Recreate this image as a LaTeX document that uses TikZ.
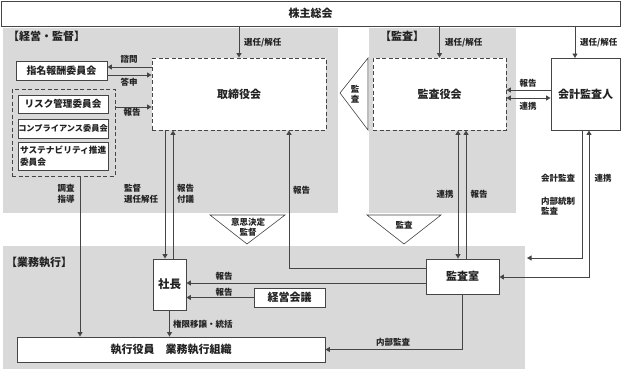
\documentclass[tikz,border=0pt]{standalone}
\usepackage{fontspec}
\setmainfont{Noto Sans CJK JP}
\usetikzlibrary{arrows.meta}
\definecolor{bg}{HTML}{D9D9D9}
\definecolor{ln}{HTML}{454545}
\definecolor{tx}{HTML}{222222}
\tikzset{
  box/.style={draw=ln, line width=0.9pt, fill=white, inner sep=0pt, text=tx,
    font=\fontsize{11}{13}\selectfont},
  dbox/.style={box, dash pattern=on 4pt off 2.5pt},
  tip/.tip={Triangle[length=4.5pt,width=5pt]},
  arr/.style={draw=ln, line width=0.9pt, -tip},
  darr/.style={draw=ln, line width=0.9pt, tip-tip},
  lbl/.style={font=\fontsize{8.5}{10.5}\selectfont, inner sep=0pt, text=tx},
  head/.style={font=\fontsize{11}{13}\selectfont, inner sep=0pt, text=tx, anchor=west},
  tri/.style={draw=ln, line width=0.6pt, fill=white},
}
\begin{document}
\bfseries
\begin{tikzpicture}[x=1pt,y=-1pt]
\useasboundingbox (0,0) rectangle (621,370);
% regions
\fill[bg] (3,28) rectangle (338,213);
\fill[bg] (369,28) rectangle (516,213);
\fill[bg] (3,246) rectangle (525,369);
\node[head] (hkeiei) at (8,36) {【経営・監督】};
\node[head] (hkansa) at (380,36) {【監査】};
\node[head] (hgyomu) at (6,262) {【業務執行】};
% triangles
\draw[tri] (340,93) -- (368,58) -- (368,130) -- cycle;
\node[lbl, align=center, font=\fontsize{8.5}{10}\selectfont] (tkansa1) at (355,94) {監\\査};
\draw[tri] (210,215) -- (285,215) -- (247,244) -- cycle;
\node[lbl, align=center, font=\fontsize{8.5}{10}\selectfont] (tishi) at (248,227) {意思決定\\監督};
\draw[tri] (367,215) -- (441,215) -- (404,244) -- cycle;
\node[lbl] (tkansa2) at (404,225) {監査};
% boxes
\node[box, minimum width=619pt, minimum height=25pt] (kabu) at (310.5,13.5) {株主総会};
\node[dbox, minimum width=174pt, minimum height=72pt] (tori) at (239,94) {取締役会};
\node[dbox, minimum width=133pt, minimum height=72pt] (kansa) at (439.5,94) {監査役会};
\node[box, minimum width=69pt, minimum height=72pt] (kaikei) at (585.5,94) {会計監査人};
\node[box, minimum width=91pt, minimum height=19pt, font=\fontsize{10}{12}\selectfont] (shimei) at (61.5,70.5) {指名報酬委員会};
\node[dbox, fill=none, minimum width=103pt, minimum height=87pt] (group) at (63.5,132.5) {};
\node[box, minimum width=90pt, minimum height=18pt, font=\fontsize{9.6}{12}\selectfont] (risk) at (63,104) {リスク管理委員会};
\node[box, minimum width=90pt, minimum height=19pt, font=\fontsize{8.2}{10}\selectfont] (comp) at (63,128.5) {コンプライアンス委員会};
\node[box, minimum width=90pt, minimum height=28pt, text width=86pt, align=left, font=\fontsize{8.7}{11.5}\selectfont] (sus) at (63,156) {サステナビリティ推進\\委員会};
\node[box, minimum width=33pt, minimum height=51pt, font=\fontsize{11.5}{13}\selectfont] (shacho) at (169.5,284.5) {社長};
\node[box, minimum width=71pt, minimum height=19pt] (keiei) at (289.5,297.5) {経営会議};
\node[box, minimum width=308pt, minimum height=25pt] (shikkou) at (171,349.5) {執行役員　業務執行組織};
\node[box, minimum width=73pt, minimum height=35pt] (kshitsu) at (462.5,276.5) {監査室};
\coordinate (gyomuedge) at (527,258);
% connectors from 株主総会
\draw[arr] (tori.north |- kabu.south) -- (tori.north);
\node[lbl, anchor=west] (l1) at (244,43) {選任/解任};
\draw[arr] (kansa.north |- kabu.south) -- (kansa.north);
\node[lbl, anchor=west] (l2) at (445,43) {選任/解任};
\draw[arr] (575,26) -- (575,58);
\node[lbl, anchor=west] (l3) at (580,43) {選任/解任};
% committees
\draw[arr] (tori.west |- 0,67) -- (shimei.east |- 0,67);
\node[lbl] (l4) at (129,59) {諮問};
\draw[arr] (shimei.east |- 0,75) -- (tori.west |- 0,75);
\node[lbl] (l5) at (129,82) {答申};
\draw[arr] (group.east |- 0,107) -- (tori.west |- 0,107);
\node[lbl] (l6) at (132,112) {報告};
\draw[arr] (group.south -| 80,0) -- (shikkou.north -| 80,0);
\node[lbl, align=center] (l7) at (66,194) {調査\\指導};
% board <-> president
\draw[arr] (tori.south -| 165,0) -- (shacho.north -| 165,0);
\node[lbl, align=left, anchor=west] (l8) at (124,194) {監督\\選任解任};
\draw[arr] (shacho.north -| 173,0) -- (tori.south -| 173,0);
\node[lbl, align=left, anchor=west] (l9) at (177,194) {報告\\付議};
% audit office -> board
\draw[arr] (kshitsu.west |- 0,268) -| (tori.south -| 289,0);
\node[lbl, anchor=west] (l10) at (293,190) {報告};
\draw[arr] (kshitsu.west |- 0,283) -- (shacho.east |- 0,283);
\node[lbl] (l11) at (224,276) {報告};
\draw[arr] (keiei.west) -- (shacho.east |- keiei.west);
\node[lbl] (l12) at (224,292) {報告};
\draw[arr] (shacho.south) -- (shikkou.north -| shacho.south);
\node[lbl, anchor=west] (l13) at (173,324) {権限移譲・統括};
\draw[arr] (kshitsu.south) |- (shikkou.east);
\node[lbl] (l14) at (393,342) {内部監査};
% audit board <-> accounting auditor
\draw[arr] (kaikei.west |- 0,90) -- (kansa.east |- 0,90);
\node[lbl] (l15) at (528,83) {報告};
\draw[darr] (kansa.east |- 0,98) -- (kaikei.west |- 0,98);
\node[lbl] (l16) at (528,106) {連携};
% audit board <-> audit office
\draw[darr] (kansa.south -| 458,0) -- (kshitsu.north -| 458,0);
\node[lbl] (l17) at (445,194) {連携};
\draw[arr] (kshitsu.north -| 466,0) -- (kansa.south -| 466,0);
\node[lbl] (l18) at (479,194) {報告};
% accounting auditor
\draw[arr] (kaikei.south -| 582,0) |- (gyomuedge);
\node[lbl, anchor=west] (l19) at (541,178) {会計監査};
\node[lbl, anchor=west, align=left] (l20) at (541,206) {内部統制\\監査};
\draw[darr] (kaikei.south -| 589,0) |- (kshitsu.east |- 0,277);
\node[lbl] (l21) at (603,178) {連携};
\end{tikzpicture}
\end{document}
